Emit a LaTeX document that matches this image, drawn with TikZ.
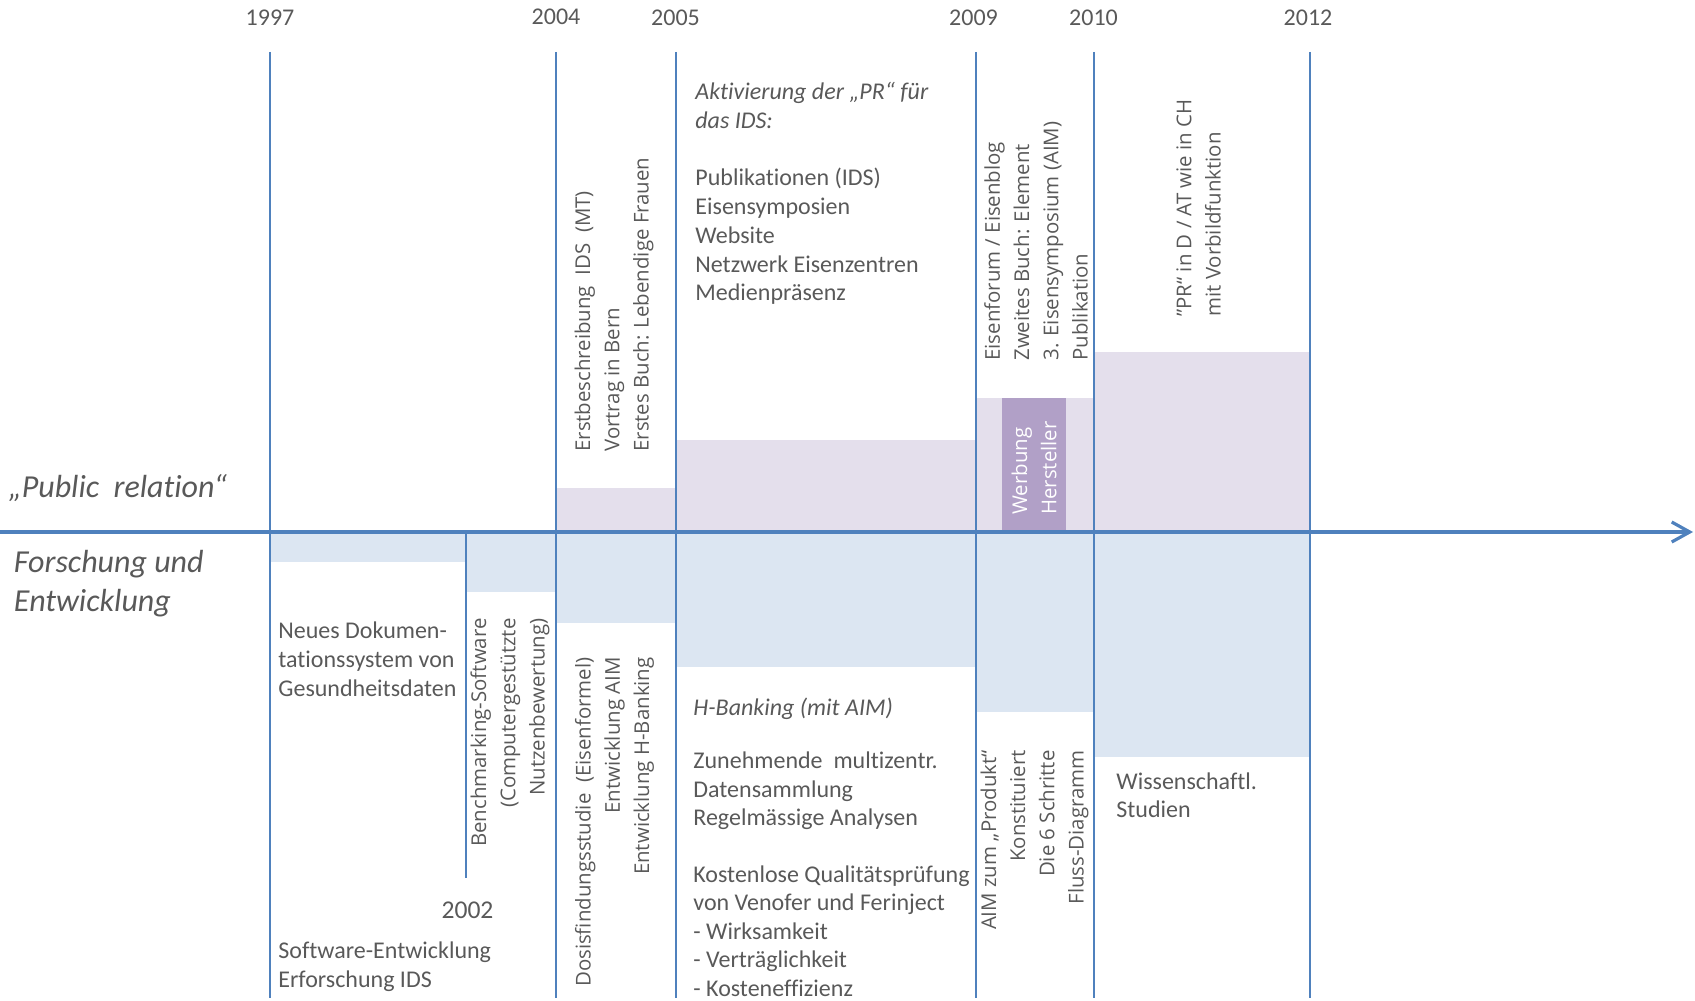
\documentclass[tikz,border=0pt]{standalone}
\usepackage{fontspec}
\setmainfont{Carlito}[Ligatures={NoCommon,TeX}]
\newfontfamily\osans{Open Sans}[Ligatures={NoCommon,TeX}]
\usetikzlibrary{arrows.meta}
\definecolor{tgray}{HTML}{595959}
\definecolor{lblue}{HTML}{4F81BD}
\definecolor{fillpr}{HTML}{E4DFEC}
\definecolor{fillfe}{HTML}{DCE6F2}
\definecolor{fillwerb}{HTML}{B1A0C7}
\begin{document}
\begin{tikzpicture}[x=0.5pt,y=-0.5pt,
  yearline/.style={draw=lblue, line width=1pt},
  yearlbl/.style={font=\fontsize{12}{14.4}\selectfont, text=tgray, inner sep=0, anchor=base},
  body/.style={font=\fontsize{12}{14.35}\selectfont, text=tgray, inner sep=0, anchor=base west, align=left},
  lane/.style={font=\itshape\fontsize{16}{19.5}\selectfont, text=tgray, inner sep=0, anchor=base west, align=left},
  vtext/.style={font=\osans\fontsize{10.2}{14.6}\selectfont, text=tgray, inner sep=0, rotate=90},
  vup/.style={vtext, anchor=west, align=left},
  vdown/.style={vtext, anchor=east, align=right},
]
\useasboundingbox (0,0) rectangle (1695,1000);

% shaded bands: public relation (above axis)
\fill[fillpr] (556,487.5) rectangle (676,532);
\fill[fillpr] (676,440) rectangle (976,532);
\fill[fillpr] (976,398) rectangle (1094,532);
\fill[fillpr] (1094,352) rectangle (1310,532);
\fill[fillwerb] (1002,398) rectangle (1066,532);
% shaded bands: Forschung und Entwicklung (below axis)
\fill[fillfe] (270,532) rectangle (466,562);
\fill[fillfe] (466,532) rectangle (556,592);
\fill[fillfe] (556,532) rectangle (676,623);
\fill[fillfe] (676,532) rectangle (976,667);
\fill[fillfe] (976,532) rectangle (1094,712);
\fill[fillfe] (1094,532) rectangle (1310,757);

% year lines
\foreach \x/\n in {270/a,556/b,676/c,976/d,1094/e,1310/f}{
  \coordinate (top\n) at (\x,52);
  \coordinate (bot\n) at (\x,998);
  \draw[yearline] (top\n) -- (bot\n);
}
\coordinate (top2002) at (466,532);
\coordinate (bot2002) at (466,878);
\draw[yearline] (top2002) -- (bot2002);

% time axis
\coordinate (axS) at (0,532);
\coordinate (axE) at (1693,532);
\draw[draw=lblue, line width=1.6pt, -{Straight Barb[length=9pt,width=10pt]}] (axS) -- (axE);

% year labels
\node[yearlbl] (y1997) at (270,25.5) {1997};
\node[yearlbl] (y2004) at (556,24.5) {2004};
\node[yearlbl] (y2005) at (675.5,25.5) {2005};
\node[yearlbl] (y2009) at (973.5,25.5) {2009};
\node[yearlbl] (y2010) at (1093.5,25.5) {2010};
\node[yearlbl] (y2012) at (1308,25.5) {2012};
\node[yearlbl, font=\fontsize{12.8}{15}\selectfont] (y2002) at (467.5,918) {2002};

% lane titles (anchor = baseline of last line)
\node[lane] (pr) at (8,497.5) {„Public\ \ relation“};
\node[lane] (fe) at (13.5,611) {Forschung und\\Entwicklung};

% horizontal texts (anchor = baseline of last line)
\node[body] (akt) at (695,300.8) {\textit{Aktivierung der „PR“ für}\\ \textit{das IDS:}\\[14.35pt] Publikationen (IDS)\\ Eisensymposien\\ Website\\ Netzwerk Eisenzentren\\ Medienpräsenz};
\node[body] (hb) at (693,715) {\textit{H-Banking (mit AIM)}};
\node[body, font=\fontsize{12}{14.2}\selectfont] (hbtext) at (693,996) {Zunehmende\ \ multizentr.\\ Datensammlung\\ Regelmässige Analysen\\[14.2pt] Kostenlose Qualitätsprüfung\\ von Venofer und Ferinject\\ - Wirksamkeit\\ - Verträglichkeit\\ - Kosteneffizienz};
\node[body] (neu) at (278,696) {Neues Dokumen-\\ tationssystem von\\ Gesundheitsdaten};
\node[body] (sw) at (278,987.2) {Software-Entwicklung\\ Erforschung IDS};
\node[body] (wiss) at (1116,817.7) {Wissenschaftl.\\ Studien};

% rotated texts
\node[vup] (pr0405) at (614,452) {Erstbeschreibung\ \ IDS\ \ (MT)\\ Vortrag in Bern\\ Erstes Buch: Lebendige Frauen};
\node[vup] (pr0910) at (1036,361) {Eisenforum / Eisenblog\\ Zweites Buch: Element\\ 3. Eisensymposium (AIM)\\ Publikation};
\node[vup, text=white] (werb) at (1034,515) {Werbung\\ Hersteller};
\node[vup] (pr1012) at (1198.5,317) {”PR“ in D / AT wie in CH\\ mit Vorbildfunktion};
\node[vdown] (fe0204) at (510,618) {Benchmarking-Software\\ (Computergestützte\\ Nutzenbewertung)};
\node[vdown] (fe0405) at (614.5,657) {Dosisfindungsstudie\ \ (Eisenformel)\\ Entwicklung AIM\\ Entwicklung H-Banking};
\node[vdown] (fe0910) at (1034.5,750) {AIM zum „Produkt“\\ Konstituiert\\ Die 6 Schritte\\ Fluss-Diagramm};
\end{tikzpicture}
\end{document}
